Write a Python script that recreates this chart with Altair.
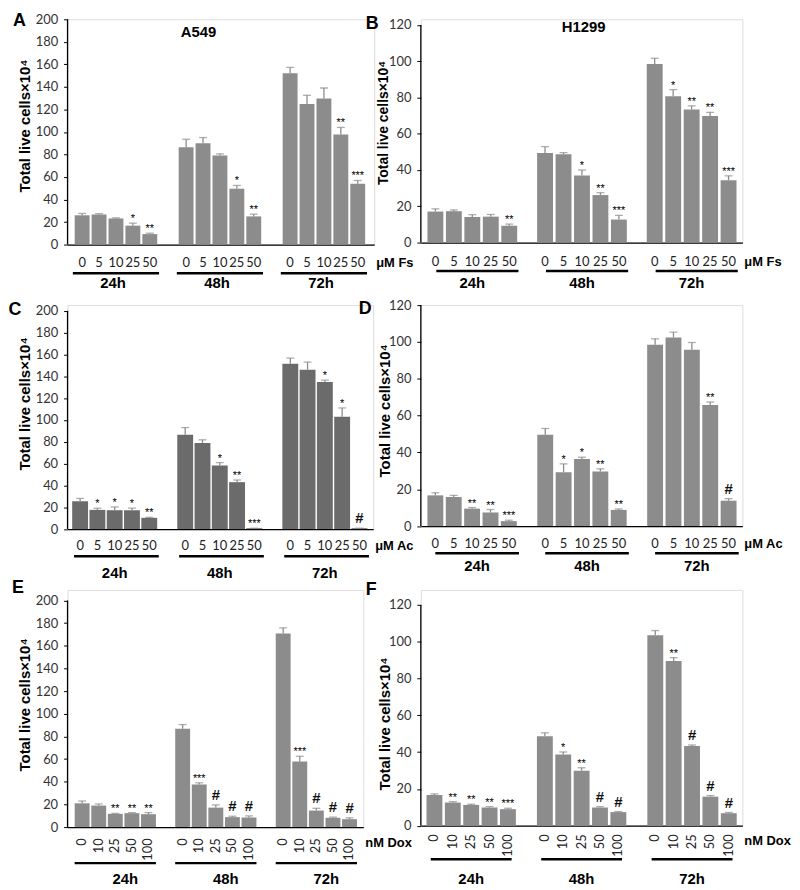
import altair as alt
import pandas as pd

TIMES = ["24h", "48h", "72h"]
DOSES_UM = ["0", "5", "10", "25", "50"]
DOSES_NM = ["0", "10", "25", "50", "100"]
YTITLE = "Total live cells×10⁴"

# ---- data ----
A_VALS = [26, 26.6, 23.2, 16.8, 9.3, 86.5, 90, 79, 49.6, 25, 152, 124.7, 129.6, 97.8, 54]
A_ERR = [1.6, 0.8, 0.5, 2.2, 0.8, 7, 5, 1.5, 2.9, 2, 5.3, 7.8, 9.4, 6.2, 2.9]
A_SIG = ["", "", "", "*", "**", "", "", "", "*", "**", "", "", "", "**", "***"]

B_VALS = [17.1, 17.3, 14.1, 14.3, 9.3, 49.4, 48.7, 37, 26.2, 12.7, 98.4, 80.7, 73.4, 69.8, 34.3]
B_ERR = [1.5, 0.7, 1.3, 1.2, 0.9, 3.5, 0.9, 3, 1.3, 2.3, 3.2, 3.6, 2, 2, 2.5]
B_SIG = ["", "", "", "", "**", "", "", "*", "**", "***", "", "*", "**", "**", "***"]

C_VALS = [25.5, 17.6, 17.3, 17.3, 10.3, 86.4, 78.8, 58.2, 43, 0.8, 151.5, 146, 134.8, 103, 0.8]
C_ERR = [2.6, 1.5, 3, 2, 0.5, 6.6, 3, 2.7, 2, 0, 5.2, 7, 1.6, 8, 0]
C_SIG = ["", "*", "*", "*", "**", "", "", "*", "**", "***", "", "", "*", "*", "#"]

D_VALS = [16.7, 15.8, 9.5, 7.4, 2.7, 49.6, 29.3, 36.5, 29.6, 8.8, 98.5, 102.4, 95.8, 65.8, 13.8]
D_ERR = [1.4, 0.9, 0.6, 1.6, 0.5, 3.4, 4.5, 0.9, 1.5, 0.5, 3.2, 2.9, 3.9, 1.6, 1.1]
D_SIG = ["", "", "**", "**", "***", "", "*", "*", "**", "**", "", "", "", "**", "#"]

E_VALS = [21, 19, 11.7, 12.3, 11.4, 86.7, 37.7, 17.2, 8.8, 8.5, 170.8, 57.8, 14.6, 8.2, 7]
E_ERR = [2, 1.4, 0.4, 0.5, 1.4, 3.8, 1.4, 2.4, 0.8, 1.4, 5, 4.7, 2, 0.6, 1.2]
E_SIG = ["", "", "**", "**", "**", "", "***", "#", "#", "#", "", "***", "#", "#", "#"]

F_VALS = [16.7, 12.6, 11.3, 9.9, 9, 48.7, 38.7, 29.9, 9.9, 7.4, 103.6, 89.6, 43.3, 15.8, 6.8]
F_ERR = [0.6, 0.5, 0.4, 0.5, 0.5, 1.8, 1.4, 1.6, 0.5, 0.3, 2.5, 1.8, 0.6, 0.6, 0.4]
F_SIG = ["", "**", "**", "**", "***", "", "*", "**", "#", "#", "", "**", "#", "#", "#"]

GRAY = "#8c8c8c"
DARK = "#6b6b6b"
LABEL_FONT = "Lato"
BOLD_FONT = "Liberation Sans"


def make_panel(letter, title, vals, errs, sigs, doses, unit, p):
    W, H = p["w"], p["h"]
    G = p["G"]
    df = pd.DataFrame({
        "pos": [g * G + i for g in range(3) for i in range(5)],
        "val": vals,
        "top": [v + e for v, e in zip(vals, errs)],
        "sig": sigs,
        "dose": doses * 3,
    })
    gdf = pd.DataFrame({
        "time": TIMES,
        "start": [g * G + p["u0"] for g in range(3)],
        "end": [g * G + 4 + p["u1"] for g in range(3)],
        "mid": [g * G + 2 for g in range(3)],
    })
    xsc = alt.Scale(domain=[p["lo"], p["hi"]], nice=False, zero=False)
    ysc = alt.Scale(domain=[0, p["dmax"]], nice=False)
    xaxis = alt.Axis(title=None, labels=False, ticks=False, grid=False, domain=True,
                     domainColor="black", domainWidth=1.3)
    yaxis = alt.Axis(
        values=list(range(0, p["ymax"] + 1, 20)), domain=False, grid=False,
        tickColor="black", tickSize=4, tickWidth=1,
        labelFont=LABEL_FONT, labelFontSize=13, labelColor="#333333",
        labelPadding=6, title=YTITLE, titleFont=BOLD_FONT,
        titleFontSize=p["tfs"], titleFontWeight="bold", titleColor="black",
        titleX=p["tx"], titleY=H + p["ty"], titleBaseline="middle",
        titleAngle=270)

    def X(f):
        return alt.X(f, scale=xsc, axis=xaxis)

    def Y(f):
        return alt.Y(f, scale=ysc, axis=yaxis)

    base = alt.Chart(df)
    bars = base.mark_bar(size=p["bw"], color=p["color"]).encode(
        x=X("pos:Q"), y=Y("val:Q"))
    yline = alt.Chart(pd.DataFrame({"a": [0], "b": [p["ymax"]]})).mark_rule(
        color="black", strokeWidth=1.3).encode(
        x=alt.value(0), y=Y("b:Q"), y2="a:Q")
    err = base.mark_rule(color=GRAY, strokeWidth=1.3).encode(
        x=X("pos:Q"), y=Y("val:Q"), y2="top:Q")
    cap = base.mark_tick(orient="horizontal", size=8, thickness=1.3,
                         color=GRAY).encode(x=X("pos:Q"), y=Y("top:Q"))
    stars = base.transform_filter("indexof(datum.sig, '*') >= 0").mark_text(
        fontSize=11, font=BOLD_FONT, color="#000000", baseline="bottom", dy=1
    ).encode(x=X("pos:Q"), y=Y("top:Q"), text="sig:N")
    hashes = base.transform_filter("datum.sig == '#'").mark_text(
        fontSize=15, font=BOLD_FONT, fontWeight="bold", color="#111111",
        baseline="bottom", dy=-2
    ).encode(x=X("pos:Q"), y=Y("top:Q"), text="sig:N")
    if p["rot"]:
        dose_txt = base.mark_text(font=LABEL_FONT, fontSize=13, color="#222222",
                                  angle=270, align="right", baseline="middle")
    else:
        dose_txt = base.mark_text(font=LABEL_FONT, fontSize=13, color="#222222",
                                  baseline="middle")
    dose_txt = dose_txt.encode(x=X("pos:Q"), y=alt.value(H + p["doff"]), text="dose:N")
    uline = alt.Chart(gdf).mark_rule(color="black", strokeWidth=2.5).encode(
        x=X("start:Q"), x2="end:Q", y=alt.value(H + p["uoff"]))
    glab = alt.Chart(gdf).mark_text(font=BOLD_FONT, fontWeight="bold", fontSize=15,
                                    baseline="middle", dx=p["gdx"]).encode(
        x=X("mid:Q"), y=alt.value(H + p["goff"]), text="time:N")
    ulab = alt.Chart(pd.DataFrame({"t": [unit]})).mark_text(
        font=BOLD_FONT, fontWeight="bold", fontSize=13, align="left",
        baseline="middle").encode(x=alt.value(W + 2), y=alt.value(H + p["unoff"]),
                                  text="t:N")
    let = alt.Chart(pd.DataFrame({"t": [letter]})).mark_text(
        font=BOLD_FONT, fontWeight="bold", fontSize=18, baseline="middle").encode(
        x=alt.value(p["lx"]), y=alt.value(H + p["ly"]), text="t:N")
    layers = [bars, yline, err, cap, stars, hashes, dose_txt, uline, glab, ulab, let]
    if title:
        ttl = alt.Chart(pd.DataFrame({"t": [title]})).mark_text(
            font=BOLD_FONT, fontWeight="bold", fontSize=15, baseline="middle").encode(
            x=alt.value(p["ttx"]), y=alt.value(H + p["tty"]), text="t:N")
        layers.append(ttl)
    return alt.layer(*layers).properties(width=W, height=H)


E3 = 10.6
PA = dict(G=6.15, lo=-0.57, hi=16.98, w=309, h=227, dmax=200, ymax=200, bw=15, color=GRAY,
          doff=19, uoff=29, goff=39, unoff=19, u0=-0.55, u1=0.55, gdx=-3, rot=False,
          lx=-48.5, ly=-225, ttx=132, tty=-214, tx=-43, ty=-120, tfs=15)
PB = dict(G=5.94, lo=-0.52, hi=16.36, w=324, h=225, dmax=123.1, ymax=120, bw=16, color=GRAY,
          doff=19.5, uoff=28.7, goff=40.7, unoff=19.5, u0=0.05, u1=0.5, gdx=0, rot=False,
          lx=-49, ly=-220, ttx=164, tty=-217, tx=-38, ty=-121, tfs=14)
PC = dict(G=6.08, lo=-0.44, hi=16.67, w=308, h=225.7, dmax=205.2, ymax=200, bw=16, color=DARK,
          doff=17.3, uoff=27.3, goff=44.3, unoff=17.3, u0=-0.35, u1=0.55, gdx=0, rot=False,
          lx=-53, ly=-220.7, tx=-43, ty=-126.7, tfs=15)
PD = dict(G=5.98, lo=-0.52, hi=16.44, w=324, h=222.7, dmax=120, ymax=120, bw=16, color=GRAY,
          doff=18.3, uoff=27.3, goff=40.3, unoff=18.3, u0=0.0, u1=0.55, gdx=5, rot=False,
          lx=-56, ly=-218.7, tx=-37, ty=-116.7, tfs=15)
PE = dict(G=6.06, lo=-0.58, hi=16.65, w=298, h=228.4 + E3, dmax=200 * (228.4 + E3) / 228.4,
          ymax=200, bw=15, color=GRAY,
          doff=11.3, uoff=36.3, goff=52.3, unoff=16.3, u0=-0.45, u1=0.45, gdx=10, rot=True,
          lx=-50, ly=-240.7, tx=-43, ty=-123.7, tfs=15)
PF = dict(G=6.01, lo=-0.47, hi=16.49, w=324, h=222.4 + 4.6 + E3,
          dmax=120 * (222.4 + 4.6 + E3) / 222.4, ymax=120, bw=16, color=GRAY,
          doff=8.7, uoff=33.7, goff=53.7, unoff=15.7, u0=-0.2, u1=0.2, gdx=0, rot=True,
          lx=-50, ly=-237.3, tx=-37, ty=-103, tfs=15)

pa = make_panel("A", "A549", A_VALS, A_ERR, A_SIG, DOSES_UM, "μM Fs", PA)
pb = make_panel("B", "H1299", B_VALS, B_ERR, B_SIG, DOSES_UM, "μM Fs", PB)
pc = make_panel("C", None, C_VALS, C_ERR, C_SIG, DOSES_UM, "μM Ac", PC)
pd_ = make_panel("D", None, D_VALS, D_ERR, D_SIG, DOSES_UM, "μM Ac", PD)
pe = make_panel("E", None, E_VALS, E_ERR, E_SIG, DOSES_NM, "nM Dox", PE)
pf = make_panel("F", None, F_VALS, F_ERR, F_SIG, DOSES_NM, "nM Dox", PF)

chart = alt.concat(pa, pb, pc, pd_, pe, pf, columns=2, bounds="flush",
                   spacing={"row": 61, "column": 47}).properties(
    padding={"left": 0, "top": 0, "right": 0, "bottom": 0}
).configure_view(stroke=None).configure(background="white")

chart.save("out.html", embed_options={"renderer": "svg", "actions": False})
